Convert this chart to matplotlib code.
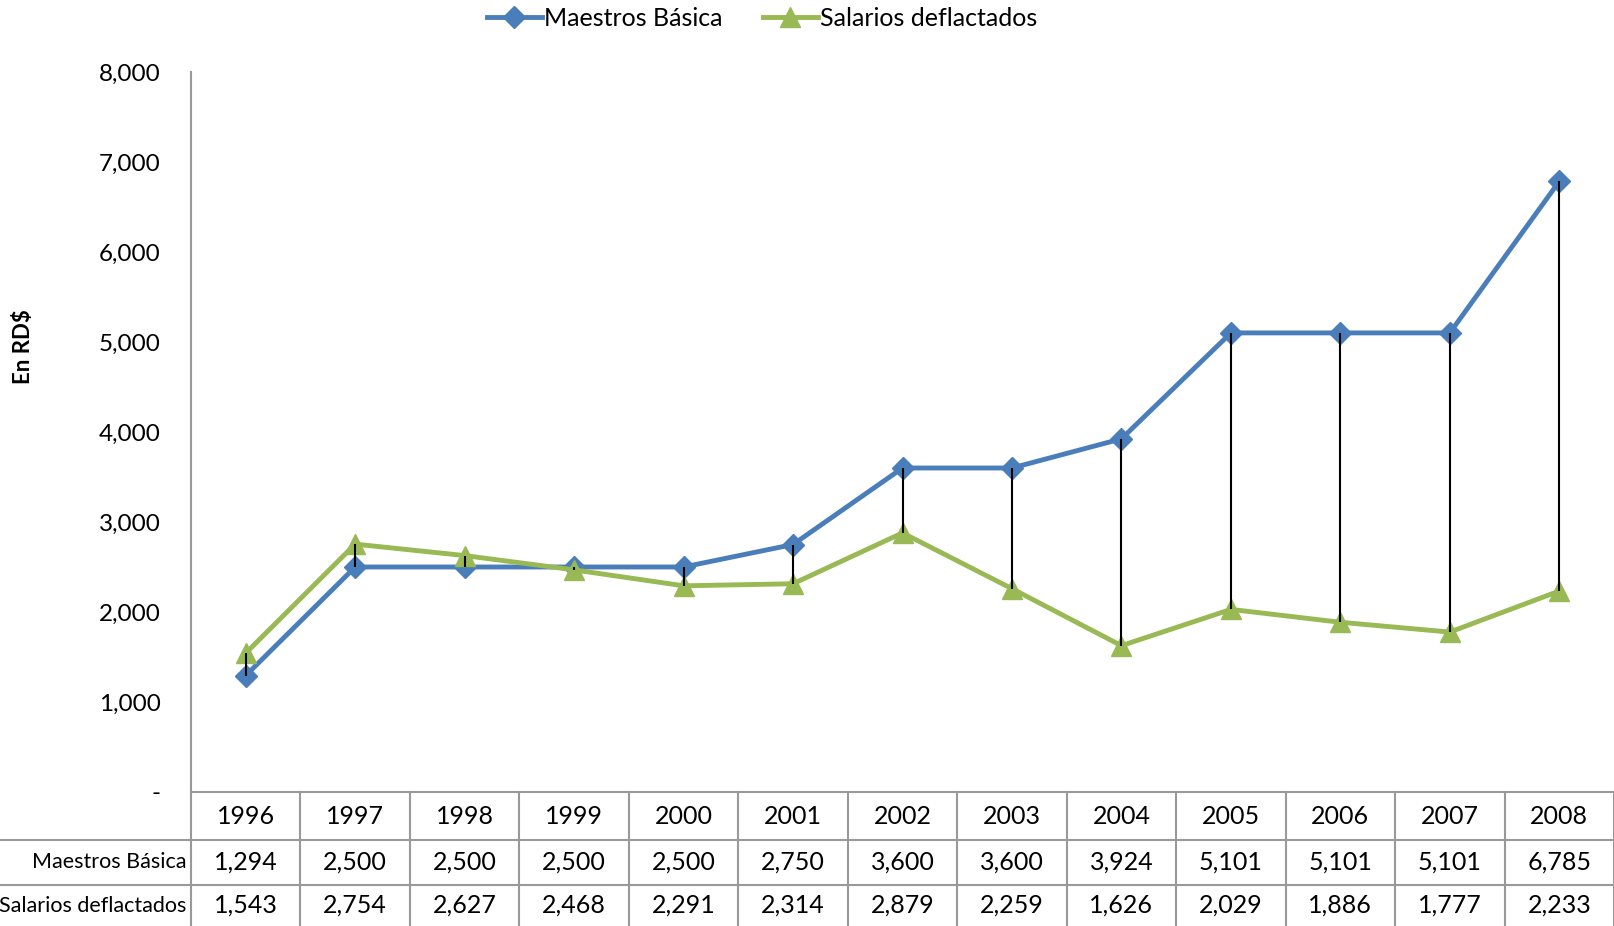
import matplotlib.pyplot as plt
import matplotlib.lines as mlines
import numpy as np

plt.rcParams['font.family'] = ['Lato', 'DejaVu Sans']

years = ["1996", "1997", "1998", "1999", "2000", "2001", "2002",
         "2003", "2004", "2005", "2006", "2007", "2008"]
maestros = [1294, 2500, 2500, 2500, 2500, 2750, 3600, 3600, 3924, 5101, 5101, 5101, 6785]
salarios = [1543, 2754, 2627, 2468, 2291, 2314, 2879, 2259, 1626, 2029, 1886, 1777, 2233]
series_names = ["Maestros Básica", "Salarios deflactados"]
yticks = [0, 1000, 2000, 3000, 4000, 5000, 6000, 7000, 8000]

BLUE = '#4A7EBB'
GREEN = '#98B954'
GRID = '#999999'
W, H = 1614, 926
FS = 18

fig = plt.figure(figsize=(W / 100, H / 100), dpi=100)
ax = fig.add_axes([191 / W, 1 - 792 / H, (W - 191) / W, (792 - 72) / H])

x = np.arange(len(years))
ax.plot(x, maestros, color=BLUE, lw=3.5, marker='D', ms=11, label=series_names[0], zorder=3)
ax.plot(x, salarios, color=GREEN, lw=3.5, marker='^', ms=14, label=series_names[1], zorder=3)
# high-low lines
ax.vlines(x, np.minimum(maestros, salarios), np.maximum(maestros, salarios),
          color='black', lw=1.5, zorder=4)

ax.set_xlim(-0.5, len(years) - 0.5)
ax.set_ylim(0, 8000)
ax.set_yticks(yticks)
ax.set_yticklabels(["-"] + [f"{v:,}" for v in yticks[1:]], fontsize=17.5)
ax.tick_params(axis='y', length=0, pad=22)
ax.set_xticks([])
for s in ['top', 'right', 'bottom']:
    ax.spines[s].set_visible(False)
ax.spines['left'].set_color(GRID)
ax.spines['left'].set_linewidth(1.5)

fig.text(23 / W, 1 - 347 / H, "En RD$", rotation=90, fontsize=16, fontweight='bold',
         ha='center', va='center')

# data table below the axis
def fy(py):
    return 1 - py / H

row_y = [792, 840, 885, 926]
fig.add_artist(mlines.Line2D([191 / W, 1], [fy(792)] * 2, color=GRID, lw=1.5))
for py in row_y[1:3]:
    fig.add_artist(mlines.Line2D([0, 1], [fy(py)] * 2, color=GRID, lw=1.5))
col_w = (W - 191) / len(years)
for i in range(len(years) + 1):
    px = 191 + i * col_w
    fig.add_artist(mlines.Line2D([px / W] * 2, [fy(792), 0], color=GRID, lw=1.5))

rows = [years, [f"{v:,}" for v in maestros], [f"{v:,}" for v in salarios]]
for r, vals in enumerate(rows):
    cy = fy((row_y[r] + row_y[r + 1]) / 2)
    for i, v in enumerate(vals):
        cx = (191 + (i + 0.5) * col_w) / W
        fig.text(cx, cy, v, fontsize=FS, ha='center', va='center')
for r, name in enumerate(series_names):
    cy = fy((row_y[r + 1] + row_y[r + 2]) / 2)
    fig.text(186 / W, cy, name, fontsize=15.5, ha='right', va='center')

fig.legend(loc='center', bbox_to_anchor=(762 / W, fy(18)), ncol=2, frameon=False,
           fontsize=FS, handlelength=2.2, columnspacing=1.6, handletextpad=0.1)

fig.savefig("out.png", dpi=100)
